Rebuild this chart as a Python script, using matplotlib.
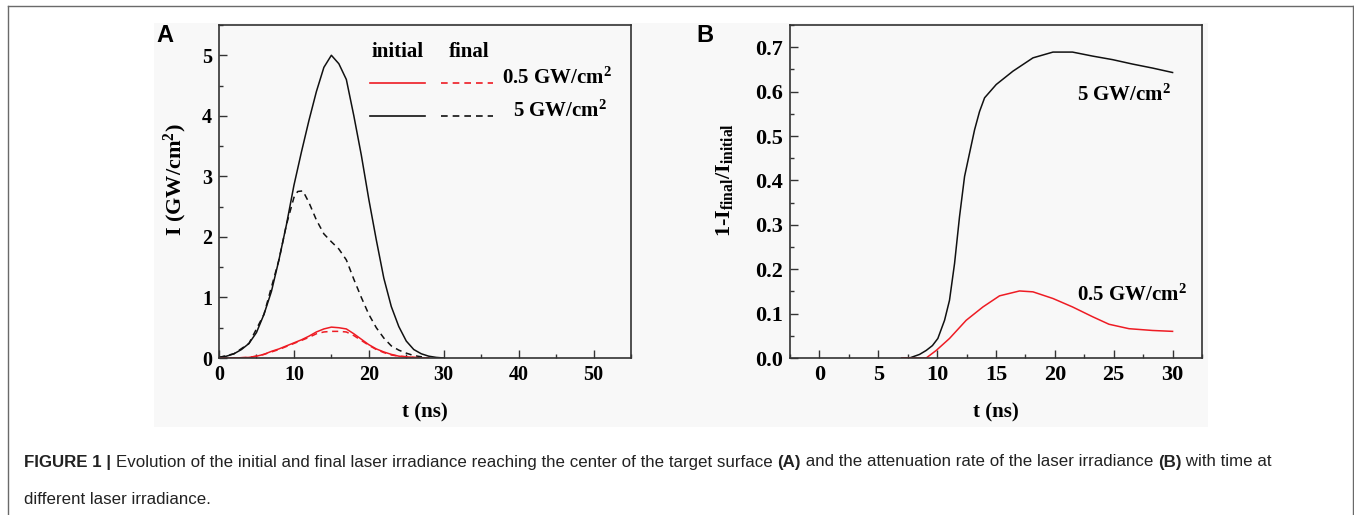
import matplotlib
matplotlib.use('Agg')
import matplotlib.pyplot as plt
from matplotlib.lines import Line2D
from matplotlib.patches import Rectangle
from matplotlib.ticker import MultipleLocator
from matplotlib import font_manager

# ---------------- data ----------------
# Panel A : irradiance vs time
tA_black_init = [0, 1, 2, 3, 4, 5, 6, 7, 8, 9, 10, 11, 12, 13, 14, 15, 16, 17, 18, 19, 20, 21, 22, 23, 24, 25, 26, 27, 28, 29, 30]
IA_black_init = [0.01, 0.03, 0.07, 0.14, 0.24, 0.42, 0.72, 1.10, 1.62, 2.20, 2.85, 3.40, 3.92, 4.40, 4.80, 5.00, 4.86, 4.60, 4.00, 3.35, 2.62, 1.95, 1.32, 0.85, 0.52, 0.28, 0.14, 0.07, 0.03, 0.01, 0.0]

tA_black_final = [0, 2, 4, 6, 8, 9, 10, 10.5, 11.2, 12, 13, 14, 15, 16, 17, 18, 19, 20, 21, 22, 23, 24, 25, 26, 27, 28]
IA_black_final = [0.01, 0.07, 0.24, 0.72, 1.62, 2.20, 2.65, 2.75, 2.76, 2.57, 2.28, 2.05, 1.92, 1.80, 1.62, 1.30, 1.00, 0.72, 0.50, 0.33, 0.20, 0.13, 0.08, 0.04, 0.02, 0.0]

tA_red_init = [0, 2, 4, 5, 6, 7, 8, 9, 10, 11, 12, 13, 14, 15, 16, 17, 18, 19, 20, 21, 22, 23, 24, 25, 26, 27, 28]
IA_red_init = [0.0, 0.0, 0.01, 0.03, 0.06, 0.11, 0.15, 0.20, 0.25, 0.30, 0.36, 0.43, 0.48, 0.51, 0.50, 0.48, 0.40, 0.31, 0.22, 0.15, 0.10, 0.06, 0.03, 0.02, 0.01, 0.0, 0.0]

tA_red_final = [0, 2, 4, 5, 6, 7, 8, 9, 10, 11, 12, 13, 14, 15, 16, 17, 18, 19, 20, 21, 22, 23, 24, 25, 26, 27, 28]
IA_red_final = [0.0, 0.0, 0.01, 0.03, 0.06, 0.10, 0.14, 0.19, 0.24, 0.29, 0.34, 0.40, 0.43, 0.44, 0.44, 0.43, 0.37, 0.29, 0.21, 0.14, 0.09, 0.05, 0.03, 0.02, 0.01, 0.0, 0.0]

# Panel B : attenuation rate vs time
tB_black = [7.0, 7.65, 8.5, 9.07, 9.6, 10.06, 10.63, 11.05, 11.48, 11.9, 12.33, 12.75, 13.18, 13.6, 14.03, 15.02, 16.44, 18.14, 19.84, 21.5, 23.2, 24.9, 26.6, 28.3, 30.0]
vB_black = [0.0, 0.0, 0.008, 0.017, 0.028, 0.044, 0.085, 0.13, 0.213, 0.318, 0.409, 0.461, 0.514, 0.555, 0.586, 0.616, 0.646, 0.676, 0.689, 0.689, 0.680, 0.672, 0.662, 0.653, 0.643]

tB_red = [7.0, 8.0, 9.07, 9.92, 11.05, 12.47, 13.89, 15.3, 17.0, 18.14, 19.84, 21.5, 23.2, 24.6, 26.3, 28.3, 30.0]
vB_red = [0.0, 0.0, 0.0, 0.017, 0.044, 0.085, 0.115, 0.140, 0.151, 0.149, 0.134, 0.115, 0.093, 0.076, 0.066, 0.062, 0.060]

A_xticks = [0, 10, 20, 30, 40, 50]
A_yticks = [0, 1, 2, 3, 4, 5]
B_xticks = [0, 5, 10, 15, 20, 25, 30]
B_yticks = [0.0, 0.1, 0.2, 0.3, 0.4, 0.5, 0.6, 0.7]
legend_labels = [r"0.5 GW/cm$^{2}$", r"5 GW/cm$^{2}$"]

# ---------------- style ----------------
RED = '#ee1c24'
BLACK = '#111111'
BG = '#f8f8f8'
SERIF = 'Liberation Serif'

plt.rcParams['mathtext.fontset'] = 'custom'
plt.rcParams['mathtext.rm'] = 'Liberation Serif:bold'
plt.rcParams['mathtext.it'] = 'Liberation Serif:bold'
plt.rcParams['mathtext.bf'] = 'Liberation Serif:bold'
plt.rcParams['mathtext.default'] = 'rm'


def pick_font(names):
    for n in names:
        try:
            font_manager.findfont(font_manager.FontProperties(family=n), fallback_to_default=False)
            return n
        except Exception:
            continue
    return 'DejaVu Sans'


CAP_FONT = pick_font(['Liberation Sans Narrow', 'Liberation Sans', 'Arial'])

W, H = 1354, 515
fig = plt.figure(figsize=(W / 100, H / 100), dpi=100)
fig.patch.set_facecolor('white')

# grey image background
fig.patches.append(Rectangle((154 / W, 1 - 427 / H), 1054 / W, 404 / H,
                             transform=fig.transFigure, facecolor=BG, edgecolor='none', zorder=-5))
# page border lines
for xs, ys in [([8 / W, 8 / W], [0, 1 - 6 / H]), ([8 / W, 1353 / W], [1 - 6 / H, 1 - 6 / H]),
               ([1353 / W, 1353 / W], [0, 1 - 6 / H])]:
    fig.lines.append(Line2D(xs, ys, transform=fig.transFigure, color='#6a6a6a', lw=1.0, zorder=-4))

axA = fig.add_axes([219 / W, 1 - 358 / H, 412 / W, 333 / H])
axB = fig.add_axes([790 / W, 1 - 358 / H, 412 / W, 333 / H])

LAB_FS = 15

for ax in (axA, axB):
    ax.set_zorder(2)
    ax.set_facecolor(BG)
    for s in ax.spines.values():
        s.set_linewidth(1.2)
        s.set_color('#333333')
    ax.tick_params(which='both', direction='in', top=False, right=False, width=1.0, color='#333333')
    ax.tick_params(which='major', length=6, pad=5)
    ax.tick_params(which='minor', length=3)

# ---- Panel A ----
axA.plot(tA_black_init, IA_black_init, color=BLACK, lw=1.1)
axA.plot(tA_black_final, IA_black_final, color=BLACK, lw=1.1, dashes=(4, 3))
axA.plot(tA_red_init, IA_red_init, color=RED, lw=1.1)
axA.plot(tA_red_final, IA_red_final, color=RED, lw=1.1, dashes=(4, 3))
axA.set_xlim(0, 55)
axA.set_ylim(0, 5.5)
axA.set_xticks(A_xticks)
axA.set_yticks(A_yticks)
axA.set_xticklabels([str(v) for v in A_xticks])
axA.set_yticklabels([str(v) for v in A_yticks])
axA.xaxis.set_minor_locator(MultipleLocator(5))
axA.yaxis.set_minor_locator(MultipleLocator(0.5))
axA.set_xlabel('t (ns)', fontfamily=SERIF, fontweight='bold', fontsize=LAB_FS)
axA.set_ylabel(r'I (GW/cm$^{2}$)', fontfamily=SERIF, fontweight='bold', fontsize=16)
axA.xaxis.set_label_coords(0.5, -(412 - 358) / 333)
axA.xaxis.label.set_va('center')
axA.yaxis.set_label_coords((175 - 219) / 412, 0.535)
axA.yaxis.label.set_va('center')

# manual legend
axA.text(0.371, 0.920, 'initial', transform=axA.transAxes, fontfamily=SERIF, fontweight='bold',
         fontsize=LAB_FS, va='center', ha='left')
axA.text(0.557, 0.920, 'final', transform=axA.transAxes, fontfamily=SERIF, fontweight='bold',
         fontsize=LAB_FS, va='center', ha='left')
for yy, col, lab, tx in [(0.827, RED, legend_labels[0], 0.686), (0.728, BLACK, legend_labels[1], 0.714)]:
    axA.add_line(Line2D([0.367, 0.500], [yy, yy], transform=axA.transAxes, color=col, lw=1.2))
    axA.add_line(Line2D([0.540, 0.666], [yy, yy], transform=axA.transAxes, color=col, lw=1.2, dashes=(4, 3)))
    axA.text(tx, yy + 0.012, lab, transform=axA.transAxes, fontfamily=SERIF, fontweight='bold',
             fontsize=LAB_FS, va='center', ha='left')

# ---- Panel B ----
axB.plot(tB_black, vB_black, color=BLACK, lw=1.1)
axB.plot(tB_red, vB_red, color=RED, lw=1.1)
axB.set_xlim(-2.5, 32.5)
axB.set_ylim(0, 0.75)
axB.set_xticks(B_xticks)
axB.set_yticks(B_yticks)
axB.set_xticklabels([str(v) for v in B_xticks])
axB.set_yticklabels(['%.1f' % v for v in B_yticks])
axB.xaxis.set_minor_locator(MultipleLocator(2.5))
axB.yaxis.set_minor_locator(MultipleLocator(0.05))
axB.set_xlabel('t (ns)', fontfamily=SERIF, fontweight='bold', fontsize=LAB_FS)
axB.set_ylabel(r'1-I$_{\mathrm{final}}$/I$_{\mathrm{initial}}$', fontfamily=SERIF, fontweight='bold', fontsize=16)
axB.xaxis.set_label_coords(0.5, -(412 - 358) / 333)
axB.xaxis.label.set_va('center')
axB.yaxis.set_label_coords((725 - 790) / 412, 0.534)
axB.yaxis.label.set_va('center')
axB.text(21.85, 0.592, legend_labels[1], fontfamily=SERIF, fontweight='bold', fontsize=LAB_FS,
         va='center', ha='left')
axB.text(21.9, 0.141, legend_labels[0], fontfamily=SERIF, fontweight='bold', fontsize=LAB_FS,
         va='center', ha='left')

for ax, fsz in ((axA, 14.5), (axB, 16)):
    for lab in ax.get_xticklabels() + ax.get_yticklabels():
        lab.set_fontfamily(SERIF)
        lab.set_fontweight('bold')
        lab.set_fontsize(fsz)

# panel letters
fig.text(165 / W, 1 - 35 / H, 'A', fontfamily='Liberation Sans', fontweight='bold', fontsize=17,
         ha='center', va='center')
fig.text(705 / W, 1 - 35 / H, 'B', fontfamily='Liberation Sans', fontweight='bold', fontsize=17,
         ha='center', va='center')

# ---- caption ----
renderer = fig.canvas.get_renderer()
line1 = [('FIGURE 1 | ', 'bold'),
         ('Evolution of the initial and final laser irradiance reaching the center of the target surface ', 'normal'),
         ('(A)', 'bold'),
         (' and the attenuation rate of the laser irradiance ', 'normal'),
         ('(B)', 'bold'),
         (' with time at', 'normal')]
line2 = [('different laser irradiance.', 'normal')]


def draw_line(pieces, x0, y, fs, draw=True):
    x = x0
    objs = []
    for txt, wt in pieces:
        t = fig.text(x / W, 1 - y / H, txt, fontfamily=CAP_FONT, fontweight=wt, fontsize=fs,
                     ha='left', va='center', color='#222222')
        bb = t.get_window_extent(renderer)
        x += bb.width
        objs.append(t)
    if not draw:
        for t in objs:
            t.remove()
    return x - x0


target = 1278 - 24
fs = 10.5
w = draw_line(line1, 24, 462, fs, draw=False)
fs = fs * target / w
fs = min(fs, 12.5)
draw_line(line1, 24, 462, fs)
draw_line(line2, 24, 499, fs)

fig.savefig('out.png', dpi=100, facecolor='white')
